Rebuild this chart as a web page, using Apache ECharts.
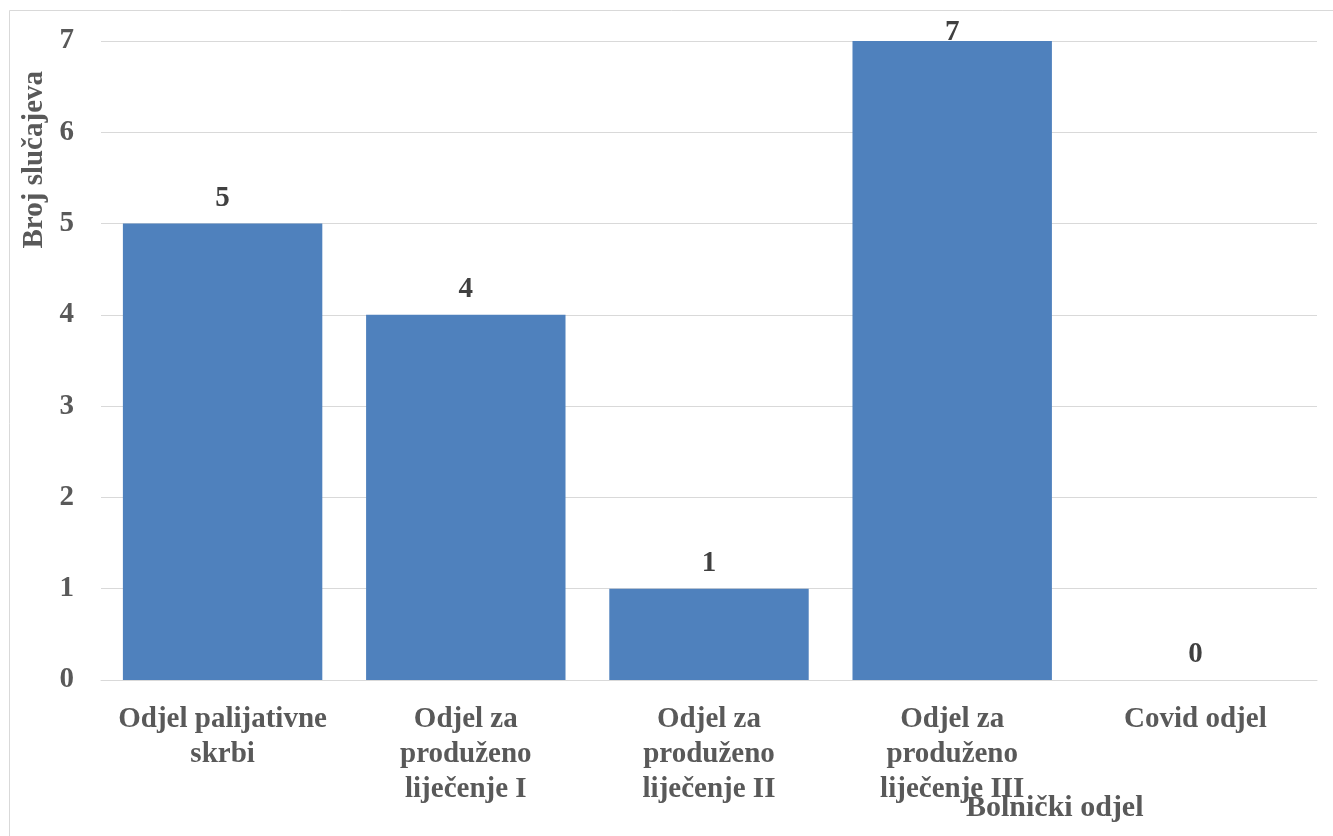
<!DOCTYPE html>
<html>
<head>
<meta charset="utf-8">
<script src="https://cdn.jsdelivr.net/npm/echarts@6/dist/echarts.min.js"></script>
<style>
html,body{margin:0;padding:0;background:#fff;}
#chart{width:1333px;height:836px;}
</style>
</head>
<body>
<div id="chart"></div>
<script>
const categories = ['Odjel palijativne\nskrbi', 'Odjel za\nproduženo\nliječenje I', 'Odjel za\nproduženo\nliječenje II', 'Odjel za\nproduženo\nliječenje III', 'Covid odjel'];
const values = [5, 4, 1, 7, 0];
const yTicks = [0, 1, 2, 3, 4, 5, 6, 7];
const xAxisTitle = 'Bolnički odjel';
const yAxisTitle = 'Broj slučajeva';

const Y_MAX = 7;
const FONT = '"Liberation Serif", "DejaVu Serif", serif';
const chart = echarts.init(document.getElementById('chart'));

// Labels of bars reaching the axis top are pushed down into the plot area (as in the original)
const barData = values.map(v => v >= Y_MAX
  ? { value: v, label: { offset: [0, 17] } }
  : v);

chart.setOption({
  animation: false,
  backgroundColor: '#ffffff',
  textStyle: { fontFamily: FONT },
  grid: { left: 101, right: 16, top: 41, bottom: 156 },
  graphic: [
    { type: 'rect', shape: { x: 9.5, y: 10.5, width: 1400, height: 900 },
      style: { fill: 'none', stroke: '#d9d9d9', lineWidth: 1 }, silent: true },
    { type: 'text', left: 966, top: 793,
      style: { text: xAxisTitle, font: 'bold 30px ' + FONT, fill: '#595959' } },
    { type: 'text', left: 20, top: 71, rotation: Math.PI / 2,
      style: { text: yAxisTitle, font: 'bold 29px ' + FONT, fill: '#595959' } }
  ],
  xAxis: {
    type: 'category',
    data: categories,
    axisLine: { show: true, lineStyle: { color: '#d9d9d9', width: 1 } },
    axisTick: { show: false },
    axisLabel: {
      interval: 0, margin: 22,
      color: '#595959', fontSize: 29, fontWeight: 'bold', fontFamily: FONT,
      lineHeight: 35
    }
  },
  yAxis: {
    type: 'value', min: 0, max: Y_MAX, interval: 1,
    axisLine: { show: false },
    axisTick: { show: false },
    splitLine: { lineStyle: { color: '#d9d9d9', width: 1 } },
    axisLabel: {
      margin: 27, color: '#595959', fontSize: 29, fontWeight: 'bold', fontFamily: FONT,
      formatter: v => yTicks.includes(v) ? String(v) : ''
    }
  },
  series: [{
    type: 'bar',
    data: barData,
    barWidth: '82%',
    itemStyle: { color: '#4F81BD' },
    label: {
      show: true, position: 'top', distance: 11,
      color: '#404040', fontSize: 29, fontWeight: 'bold', fontFamily: FONT
    }
  }]
});
</script>
</body>
</html>
